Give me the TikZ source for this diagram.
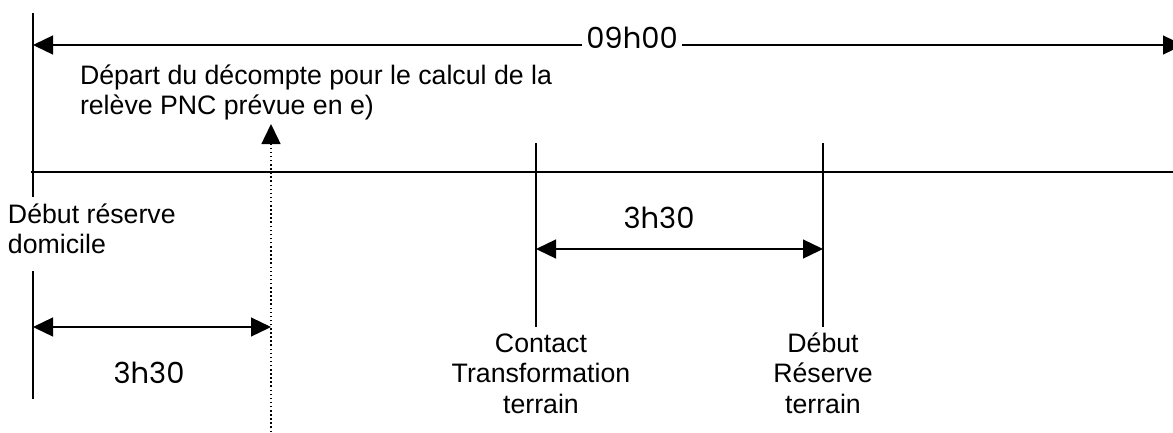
\documentclass[tikz,border=0pt]{standalone}
\usepackage{fontspec}
\setmainfont{Liberation Sans}
\newfontfamily\numfont{Poppins}
\usetikzlibrary{arrows.meta}
\begin{document}
\begin{tikzpicture}[x=1pt,y=-1pt,
  every node/.style={inner sep=0pt, outer sep=0pt},
  txt/.style={font=\fontsize{26.7}{29.5}\selectfont, align=left},
  ctxt/.style={font=\fontsize{26.7}{30.5}\selectfont, align=center},
  num/.style={font=\numfont\fontsize{29}{30}\selectfont},
  rule/.style={line width=1.3pt},
  axis/.style={line width=1.1pt},
  dots/.style={line width=1.5pt, dash pattern=on 1.5pt off 2.6pt},
  tri/.tip={Triangle[length=20pt,width=19pt]},
  dbl/.style={rule, tri-tri},
  one/.style={-tri},
]
\useasboundingbox (0,0) rectangle (1173,432);
% coordinates
\coordinate (L0) at (33,13);
\coordinate (L1) at (33,197);
\coordinate (L2) at (33,271);
\coordinate (L3) at (33,399);
\coordinate (A0) at (33,45);
\coordinate (A1) at (1183,45);
\coordinate (T0) at (31,172);
\coordinate (T1) at (1173,172);
\coordinate (C0) at (536,143);
\coordinate (C1) at (536,327);
\coordinate (D0) at (823,143);
\coordinate (D1) at (823,327);
\coordinate (P0) at (271,432);
\coordinate (P1) at (271,124);
\coordinate (M0) at (536,249);
\coordinate (M1) at (823,249);
\coordinate (B0) at (33,327);
\coordinate (B1) at (271,327);
% lines
\draw[rule] (L0) -- (L1);
\draw[rule] (L2) -- (L3);
\draw[axis] (T0) -- (T1);
\draw[rule] (C0) -- (C1);
\draw[rule] (D0) -- (D1);
\draw[dbl] (A0) -- (A1);
\draw[dbl] (M0) -- (M1);
\draw[dbl] (B0) -- (B1);
\draw[dots, one] (P0) -- (P1);
% labels
\node[num, fill=white, inner xsep=4pt, anchor=base] (h9) at (632,48) {09h00};
\node[txt, anchor=base west] (dep) at (80,114) {Départ du décompte pour le calcul de la\\relève PNC prévue en e)};
\node[txt, anchor=base west] (dom) at (8,253) {Début réserve\\domicile};
\node[ctxt, anchor=base] (ctr) at (541,413) {Contact\\Transformation\\terrain};
\node[ctxt, anchor=base] (drt) at (823,413) {Début\\Réserve\\terrain};
\node[num, anchor=base] (m330) at (659,228) {3h30};
\node[num, anchor=base] (b330) at (149,383) {3h30};
\end{tikzpicture}
\end{document}
